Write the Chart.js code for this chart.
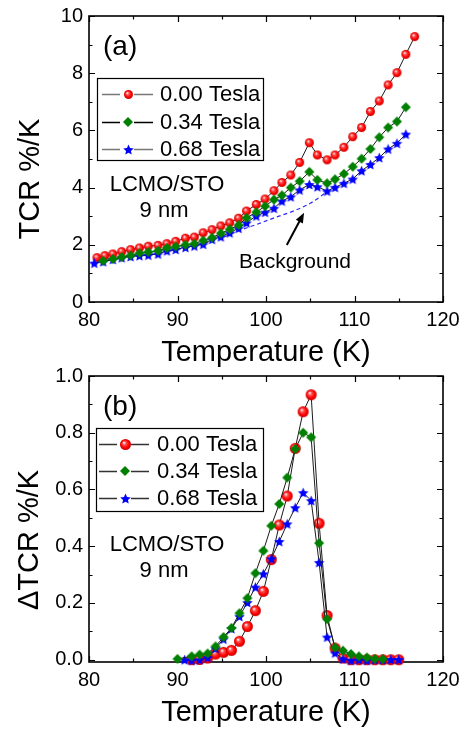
<!DOCTYPE html>
<html>
<head>
<meta charset="utf-8">
<script src="https://cdn.jsdelivr.net/npm/chart.js@4.4.0/dist/chart.umd.min.js"></script>
<style>
  html, body { margin: 0; padding: 0; background: #fff; }
  #wrap { position: relative; width: 464px; height: 730px; overflow: hidden; }
  canvas { position: absolute; left: 0; }
  #tcrChart { top: 0; }
  #deltaChart { top: 360px; }
</style>
</head>
<body>
<div id="wrap">
  <canvas id="tcrChart" width="464" height="370"></canvas>
  <canvas id="deltaChart" width="464" height="370"></canvas>
</div>
<script>
const FONT = "'Liberation Sans', Arial, sans-serif";

const fieldLabels = ['0.00 Tesla', '0.34 Tesla', '0.68 Tesla'];

// temperature axis
const tempTicks = [80, 90, 100, 110, 120];
const tempTickLabels = ['80', '90', '100', '110', '120'];
const tempMinor = [85, 95, 105, 115];

// (a) TCR against temperature
const tempA0 = [80.9, 81.8, 82.7, 83.7, 84.7, 85.7, 86.7, 87.8, 88.8, 89.8, 90.9, 91.9, 92.9, 93.9, 94.9, 95.9, 96.9, 97.8, 98.9, 99.9,
  100.9, 101.8, 102.8, 103.8, 104.9, 105.8, 106.9, 107.8, 108.8, 109.8, 110.8, 111.8, 112.8, 113.8, 114.8, 115.8, 116.8];
const tcr0 = [1.55, 1.62, 1.68, 1.76, 1.83, 1.89, 1.95, 1.98, 2.04, 2.12, 2.23, 2.27, 2.42, 2.53, 2.66, 2.77, 2.93, 3.18, 3.41, 3.60,
  3.89, 4.18, 4.44, 4.88, 5.57, 5.14, 4.97, 5.14, 5.41, 5.78, 6.10, 6.66, 7.03, 7.59, 8.02, 8.66, 9.28];

const tempA34 = [81.6, 82.7, 83.7, 84.7, 85.7, 86.7, 87.8, 88.8, 89.8, 90.9, 91.9, 92.9, 93.9, 94.9, 95.9, 96.9, 97.8, 98.9, 99.9,
  100.9, 101.8, 102.8, 103.8, 104.9, 105.8, 106.9, 107.8, 108.8, 109.8, 110.8, 111.8, 112.8, 113.8, 114.8, 115.8];
const tcr34 = [1.44, 1.50, 1.57, 1.63, 1.71, 1.75, 1.79, 1.89, 1.94, 2.00, 2.04, 2.15, 2.25, 2.40, 2.54, 2.69, 2.94, 3.14, 3.35,
  3.58, 3.73, 4.00, 4.22, 4.55, 4.27, 4.15, 4.29, 4.48, 4.73, 5.01, 5.35, 5.76, 6.10, 6.31, 6.81];

const tempA68 = [80.6, 81.6, 82.7, 83.7, 84.7, 85.7, 86.7, 87.8, 88.8, 89.8, 90.9, 91.9, 92.9, 93.9, 94.9, 95.9, 96.9, 97.8, 98.9, 99.9,
  100.9, 101.8, 102.8, 103.8, 104.9, 105.8, 106.9, 107.8, 108.8, 109.8, 110.8, 111.8, 112.8, 113.8, 114.8, 115.8];
const tcr68 = [1.36, 1.41, 1.49, 1.55, 1.59, 1.62, 1.64, 1.68, 1.79, 1.84, 1.91, 1.96, 2.02, 2.19, 2.28, 2.42, 2.58, 2.77, 3.01, 3.14,
  3.28, 3.53, 3.68, 3.92, 4.11, 4.03, 3.88, 4.01, 4.15, 4.30, 4.59, 4.81, 5.05, 5.35, 5.55, 5.87];

// smooth background under the transition bump
const tempBg = [80.6, 84, 88, 92, 95, 97, 99, 101, 103, 105, 107];
const tcrBg = [1.36, 1.55, 1.72, 1.98, 2.25, 2.50, 2.72, 2.95, 3.17, 3.45, 3.88];

const tcrTicks = [0, 2, 4, 6, 8, 10];
const tcrTickLabels = ['0', '2', '4', '6', '8', '10'];
const tcrMinor = [1, 3, 5, 7, 9];

// (b) TCR minus background
const tempB0 = [91.6, 92.5, 93.4, 94.3, 95.2, 96.1, 97.0, 97.9, 98.8, 99.7, 100.6, 101.5, 102.4, 103.3, 104.2, 105.1, 106.0,
  106.9, 107.8, 108.7, 109.6, 110.5, 111.4, 112.3, 113.2, 114.1, 115.0];
const dtcr0 = [0.0, 0.001, 0.006, 0.020, 0.026, 0.033, 0.065, 0.117, 0.173, 0.241, 0.353, 0.475, 0.577, 0.745, 0.874, 0.934, 0.481,
  0.156, 0.041, 0.006, 0.0, 0.0, 0.0, 0.0, 0.0, 0.0, 0.0];

const tempB34 = [90.0, 91.6, 92.5, 93.4, 94.3, 95.2, 96.1, 97.0, 97.9, 98.8, 99.7, 100.6, 101.5, 102.4, 103.3, 104.2, 105.1,
  106.0, 106.9, 107.8, 108.7, 109.6, 110.5, 111.4, 112.3, 113.2];
const dtcr34 = [0.003, 0.012, 0.018, 0.022, 0.047, 0.080, 0.112, 0.164, 0.217, 0.305, 0.384, 0.472, 0.549, 0.642, 0.743, 0.800, 0.784,
  0.411, 0.143, 0.043, 0.032, 0.020, 0.012, 0.008, 0.003, 0.002];

const tempB68 = [90.8, 91.6, 92.5, 93.4, 94.3, 95.2, 96.1, 97.0, 97.9, 98.8, 99.7, 100.6, 101.5, 102.4, 103.3, 104.2, 105.1,
  106.0, 106.9, 107.8, 108.7, 109.6, 110.5, 111.4, 112.3, 113.2, 114.1, 115.0];
const dtcr68 = [0.0, -0.002, 0.0, 0.008, 0.040, 0.073, 0.110, 0.153, 0.202, 0.256, 0.303, 0.356, 0.417, 0.479, 0.536, 0.589, 0.561,
  0.343, 0.080, 0.024, 0.003, -0.002, 0.0, -0.002, 0.0, 0.0, 0.001, 0.001];

const dtcrTicks = [0, 0.2, 0.4, 0.6, 0.8, 1.0];
const dtcrTickLabels = ['0.0', '0.2', '0.4', '0.6', '0.8', '1.0'];
const dtcrMinor = [0.1, 0.3, 0.5, 0.7, 0.9];

const pairs = (xs, ys) => xs.map((x, i) => ({ x, y: ys[i] }));

// marker sprites
function sphere(d) {
  const c = document.createElement('canvas');
  c.width = c.height = d + 2;
  const g2 = c.getContext('2d');
  const m = (d + 2) / 2, r = d / 2;
  const grad = g2.createRadialGradient(m - r * 0.3, m - r * 0.35, r * 0.05, m, m, r);
  grad.addColorStop(0, '#ffffff');
  grad.addColorStop(0.3, '#ff5050');
  grad.addColorStop(0.7, '#ff0000');
  grad.addColorStop(1, '#c80000');
  g2.fillStyle = grad;
  g2.beginPath();
  g2.arc(m, m, r, 0, Math.PI * 2);
  g2.fill();
  return c;
}

function diamond(d, color) {
  const c = document.createElement('canvas');
  c.width = c.height = d + 2;
  const g2 = c.getContext('2d');
  const m = (d + 2) / 2, r = d / 2;
  g2.fillStyle = color;
  g2.beginPath();
  g2.moveTo(m, m - r); g2.lineTo(m + r, m); g2.lineTo(m, m + r); g2.lineTo(m - r, m);
  g2.closePath();
  g2.fill();
  return c;
}

function star(d, color) {
  const c = document.createElement('canvas');
  c.width = c.height = d + 2;
  const g2 = c.getContext('2d');
  const m = (d + 2) / 2, ro = d / 2, ri = ro * 0.47;
  g2.fillStyle = color;
  g2.beginPath();
  for (let k = 0; k < 10; k++) {
    const rr = k % 2 ? ri : ro;
    const ang = -Math.PI / 2 + k * Math.PI / 5;
    const px = m + rr * Math.cos(ang), py = m + 0.6 + rr * Math.sin(ang);
    k ? g2.lineTo(px, py) : g2.moveTo(px, py);
  }
  g2.closePath();
  g2.fill();
  return c;
}

const GREEN = '#008000';
const BLUE = '#0000ff';
const LINE = '#1a1a1a';

// inward ticks and box frame
const frame = {
  id: 'frame',
  beforeDatasetsDraw(chart, args, opts) {
    const { ctx, chartArea: a, scales: { x, y } } = chart;
    ctx.save();
    ctx.strokeStyle = '#000';
    ctx.lineWidth = 1.2;
    ctx.beginPath();
    const xt = (vals, len) => vals.forEach(v => {
      const p = Math.round(x.getPixelForValue(v)) + 0.5;
      ctx.moveTo(p, a.bottom); ctx.lineTo(p, a.bottom - len);
      ctx.moveTo(p, a.top); ctx.lineTo(p, a.top + len);
    });
    const yt = (vals, len) => vals.forEach(v => {
      const p = Math.round(y.getPixelForValue(v)) + 0.5;
      ctx.moveTo(a.left, p); ctx.lineTo(a.left + len, p);
      ctx.moveTo(a.right, p); ctx.lineTo(a.right - len, p);
    });
    xt(tempTicks, 6); xt(tempMinor, 3.5);
    yt(opts.yMajor, 6); yt(opts.yMinor, 3.5);
    ctx.stroke();
    ctx.lineWidth = 1.6;
    ctx.strokeRect(a.left, a.top, a.right - a.left, a.bottom - a.top);
    ctx.restore();
  }
};

// panel label, sample text, axis title, legend, arrow
const notes = {
  id: 'notes',
  afterDraw(chart, args, o) {
    const { ctx, scales: { x, y } } = chart;
    ctx.save();
    ctx.fillStyle = '#000';
    ctx.textBaseline = 'alphabetic';

    ctx.font = `28px ${FONT}`;
    ctx.textAlign = 'left';
    ctx.fillText(o.panel, 103, 55);

    ctx.font = `22px ${FONT}`;
    ctx.textAlign = 'center';
    ctx.fillText('LCMO/STO', 167, 191);
    ctx.fillText('9 nm', 164, 217);

    ctx.save();
    ctx.translate(o.titleX, o.titleY);
    ctx.rotate(-Math.PI / 2);
    ctx.font = `29px ${FONT}`;
    ctx.textBaseline = 'middle';
    ctx.fillText(o.yTitle, 0, 0);
    ctx.restore();

    if (o.arrow) {
      const [t0, v0, t1, v1] = o.arrow;
      const x0 = x.getPixelForValue(t0), y0 = y.getPixelForValue(v0);
      const x1 = x.getPixelForValue(t1), y1 = y.getPixelForValue(v1);
      const ang = Math.atan2(y1 - y0, x1 - x0);
      ctx.strokeStyle = '#000';
      ctx.lineWidth = 2;
      ctx.beginPath();
      ctx.moveTo(x0, y0);
      ctx.lineTo(x1 - 6 * Math.cos(ang), y1 - 6 * Math.sin(ang));
      ctx.stroke();
      ctx.beginPath();
      ctx.moveTo(x1, y1);
      ctx.lineTo(x1 - 10 * Math.cos(ang) + 4 * Math.sin(ang), y1 - 10 * Math.sin(ang) - 4 * Math.cos(ang));
      ctx.lineTo(x1 - 10 * Math.cos(ang) - 4 * Math.sin(ang), y1 - 10 * Math.sin(ang) + 4 * Math.cos(ang));
      ctx.closePath();
      ctx.fill();
      ctx.font = `21px ${FONT}`;
      ctx.textAlign = 'center';
      ctx.fillText('Background', 295, 268);
    }

    // legend
    const L = o.legend;
    ctx.fillStyle = '#fff';
    ctx.fillRect(L.x, L.y, L.w, L.h);
    ctx.strokeStyle = '#000';
    ctx.lineWidth = 1.2;
    ctx.strokeRect(L.x + 0.5, L.y + 0.5, L.w, L.h);
    ctx.font = `22px ${FONT}`;
    ctx.textAlign = 'left';
    ctx.textBaseline = 'middle';
    L.rows.forEach((ry, i) => {
      ctx.strokeStyle = L.lineColors[i];
      ctx.lineWidth = 1.3;
      ctx.beginPath();
      ctx.moveTo(L.lineFrom, ry + 0.5); ctx.lineTo(L.mark - 8, ry + 0.5);
      ctx.moveTo(L.mark + 6, ry + 0.5); ctx.lineTo(L.lineTo, ry + 0.5);
      ctx.stroke();
      const img = L.marks[i];
      ctx.drawImage(img, Math.round(L.mark - img.width / 2), Math.round(ry - img.height / 2));
      ctx.fillStyle = '#000';
      ctx.fillText(fieldLabels[i], L.text, ry + 1);
    });
    ctx.restore();
  }
};

function scales(yMin, yMax, yTicks, yLabels) {
  return {
    x: {
      type: 'linear', min: 80, max: 120,
      afterBuildTicks: s => { s.ticks = tempTicks.map(v => ({ value: v })); },
      afterFit: s => { s.height = 68; s.paddingLeft = 0; s.paddingRight = 0; },
      grid: { display: false, drawTicks: false },
      border: { display: false },
      ticks: {
        font: { family: FONT, size: 20 }, color: '#000', padding: 6, maxRotation: 0,
        callback: (v, i) => tempTickLabels[i]
      },
      title: {
        display: true, text: 'Temperature (K)', color: '#000',
        font: { family: FONT, size: 29 }, padding: { top: 0, bottom: 0 }
      }
    },
    y: {
      type: 'linear', min: yMin, max: yMax,
      afterBuildTicks: s => { s.ticks = yTicks.map(v => ({ value: v })); },
      afterFit: s => { s.width = 89; s.paddingTop = 0; s.paddingBottom = 0; },
      grid: { display: false, drawTicks: false },
      border: { display: false },
      ticks: {
        font: { family: FONT, size: 20 }, color: '#000', padding: 6,
        callback: (v, i) => yLabels[i]
      }
    }
  };
}

function series(data, img, order) {
  return {
    data, order, pointStyle: img, pointRadius: 5, pointHoverRadius: 5,
    borderColor: LINE, borderWidth: 1, backgroundColor: LINE, clip: false
  };
}

const markA = [sphere(9), diamond(10, GREEN), star(11, BLUE)];
const markB = [sphere(11), diamond(10, GREEN), star(11, BLUE)];

new Chart(document.getElementById('tcrChart'), {
  type: 'line',
  data: {
    datasets: [
      series(pairs(tempA0, tcr0), markA[0], 2),
      series(pairs(tempA34, tcr34), markA[1], 0),
      series(pairs(tempA68, tcr68), markA[2], 1),
      {
        data: pairs(tempBg, tcrBg), order: 3, pointRadius: 0, borderColor: '#2b2bff',
        borderWidth: 1.2, borderDash: [4, 3], cubicInterpolationMode: 'monotone'
      }
    ]
  },
  options: {
    responsive: false, animation: false, devicePixelRatio: 1,
    layout: { padding: { top: 16, right: 21, left: 0, bottom: 0 } },
    scales: scales(0, 10, tcrTicks, tcrTickLabels),
    plugins: {
      legend: { display: false }, tooltip: { enabled: false },
      frame: { yMajor: tcrTicks, yMinor: tcrMinor },
      notes: {
        panel: '(a)', yTitle: 'TCR %/K', titleX: 31, titleY: 179,
        arrow: [102.35, 1.99, 104.3, 3.12],
        legend: {
          x: 97, y: 78, w: 166, h: 82, rows: [94, 122, 149],
          lineFrom: 102, lineTo: 153, mark: 128, text: 160,
          lineColors: ['#777', '#000', '#777'], marks: markA
        }
      }
    }
  },
  plugins: [frame, notes]
});

new Chart(document.getElementById('deltaChart'), {
  type: 'line',
  data: {
    datasets: [
      series(pairs(tempB0, dtcr0), markB[0], 2),
      series(pairs(tempB34, dtcr34), markB[1], 0),
      series(pairs(tempB68, dtcr68), markB[2], 1)
    ]
  },
  options: {
    responsive: false, animation: false, devicePixelRatio: 1,
    layout: { padding: { top: 16, right: 21, left: 0, bottom: 0 } },
    scales: scales(-0.008, 1.0, dtcrTicks, dtcrTickLabels),
    plugins: {
      legend: { display: false }, tooltip: { enabled: false },
      frame: { yMajor: dtcrTicks, yMinor: dtcrMinor },
      notes: {
        panel: '(b)', yTitle: 'ΔTCR %/K', titleX: 30, titleY: 180,
        legend: {
          x: 96, y: 68, w: 167, h: 83, rows: [84, 111, 138],
          lineFrom: 99, lineTo: 149, mark: 125, text: 157,
          lineColors: ['#333', '#333', '#333'], marks: markB
        }
      }
    }
  },
  plugins: [frame, notes]
});
</script>
</body>
</html>
